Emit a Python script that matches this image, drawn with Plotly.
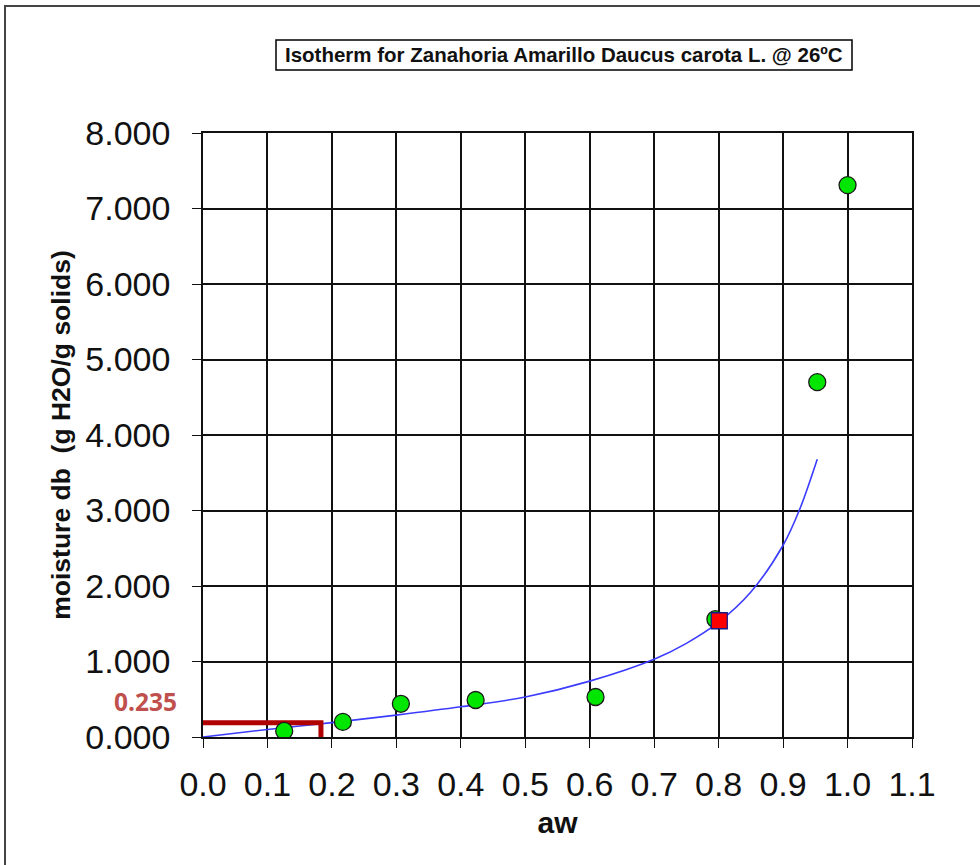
import plotly.graph_objects as go

# measured data points
aw_data = [0.126, 0.217, 0.307, 0.423, 0.609, 0.795, 0.953, 1.0]
m_data = [0.08, 0.20, 0.44, 0.49, 0.53, 1.56, 4.70, 7.31]

# highlighted point
aw_sel = [0.801]
m_sel = [1.54]

# model curve
aw_fit = [0.0, 0.1, 0.2, 0.3, 0.4, 0.5, 0.6, 0.7, 0.75, 0.8, 0.85, 0.9, 0.925, 0.953]
m_fit = [0.0, 0.10, 0.19, 0.29, 0.40, 0.53, 0.74, 1.03, 1.24, 1.52, 1.92, 2.54, 3.0, 3.68]

# monolayer marker
aw_mono = [0.0, 0.183, 0.183]
m_mono = [0.19, 0.19, 0.0]
mono_label = "0.235"

x_ticks = [0.0, 0.1, 0.2, 0.3, 0.4, 0.5, 0.6, 0.7, 0.8, 0.9, 1.0, 1.1]
y_ticks = [0, 1, 2, 3, 4, 5, 6, 7, 8]

title = "Isotherm for Zanahoria Amarillo Daucus carota L. @ 26ºC"

fig = go.Figure()
fig.add_trace(go.Scatter(x=aw_fit, y=m_fit, mode="lines",
                         line=dict(color="#3c3cff", width=1.6, shape="spline"),
                         hoverinfo="skip", showlegend=False))
fig.add_trace(go.Scatter(x=aw_mono, y=m_mono, mode="lines",
                         line=dict(color="#b00000", width=5),
                         showlegend=False))
fig.add_trace(go.Scatter(x=aw_data, y=m_data, mode="markers",
                         marker=dict(color="#00e600", size=17, symbol="circle",
                                     line=dict(color="#1a1a1a", width=1.3)),
                         showlegend=False))
fig.add_trace(go.Scatter(x=aw_sel, y=m_sel, mode="markers",
                         marker=dict(color="#ff0000", size=16, symbol="square",
                                     line=dict(color="#1a1a8a", width=1.3)),
                         showlegend=False))

W, H = 980, 865
L, R, T, B = 203, 68, 133, 128
pw, ph = W - L - R, H - T - B

def px(x):
    return (x - L) / pw

def py(y):
    return (H - B - y) / ph

shapes = [
    # outer frame
    dict(type="rect", xref="paper", yref="paper", x0=px(5), y0=py(880), x1=px(1000), y1=py(6),
         line=dict(color="#444444", width=2), layer="above"),
    # title box
    dict(type="rect", xref="paper", yref="paper", x0=px(276), y0=py(70), x1=px(852), y1=py(40),
         line=dict(color="#000000", width=1.5), fillcolor="white"),
]

annotations = [
    dict(text="<b>" + title + "</b>", xref="paper", yref="paper", x=px(564), y=py(55),
         showarrow=False, xanchor="center", yanchor="middle",
         font=dict(family="Liberation Sans", size=20.5, color="#111111")),
    dict(text="<b>" + mono_label + "</b>", xref="paper", yref="paper", x=px(178), y=py(701),
         showarrow=False, xanchor="right", yanchor="middle", borderpad=0,
         font=dict(family="Open Sans", size=24.5, color="#c0504d")),
]

fig.update_layout(
    width=W, height=H,
    margin=dict(l=L, r=R, t=T, b=B),
    paper_bgcolor="white", plot_bgcolor="white",
    shapes=shapes, annotations=annotations,
    xaxis=dict(range=[0, 1.1], tickvals=x_ticks, tickformat=".1f",
               showgrid=True, gridcolor="#111111", gridwidth=1.6,
               showline=True, linecolor="#111111", linewidth=1.6, mirror=True,
               ticks="outside", ticklen=9, tickcolor="#111111", tickwidth=1.4,
               zeroline=False, ticklabelstandoff=7,
               tickfont=dict(family="Liberation Sans", size=34, color="#111111"),
               title=dict(text="<b>aw</b>", standoff=10,
                          font=dict(family="Liberation Sans", size=30, color="#111111"))),
    yaxis=dict(range=[0, 8], tickvals=y_ticks, tickformat=".3f",
               showgrid=True, gridcolor="#111111", gridwidth=1.6,
               showline=True, linecolor="#111111", linewidth=1.6, mirror=True,
               ticks="outside", ticklen=9, tickcolor="#111111", tickwidth=1.4,
               zeroline=False, ticklabelstandoff=15,
               tickfont=dict(family="Liberation Sans", size=34, color="#111111"),
               title=dict(text="<b>moisture db \u00a0(g H2O/g solids)</b>", standoff=7,
                          font=dict(family="Liberation Sans", size=26.5, color="#111111"))),
)

fig.write_html("out.html", config={"displayModeBar": False},
               post_script="document.body.style.margin='0';")
